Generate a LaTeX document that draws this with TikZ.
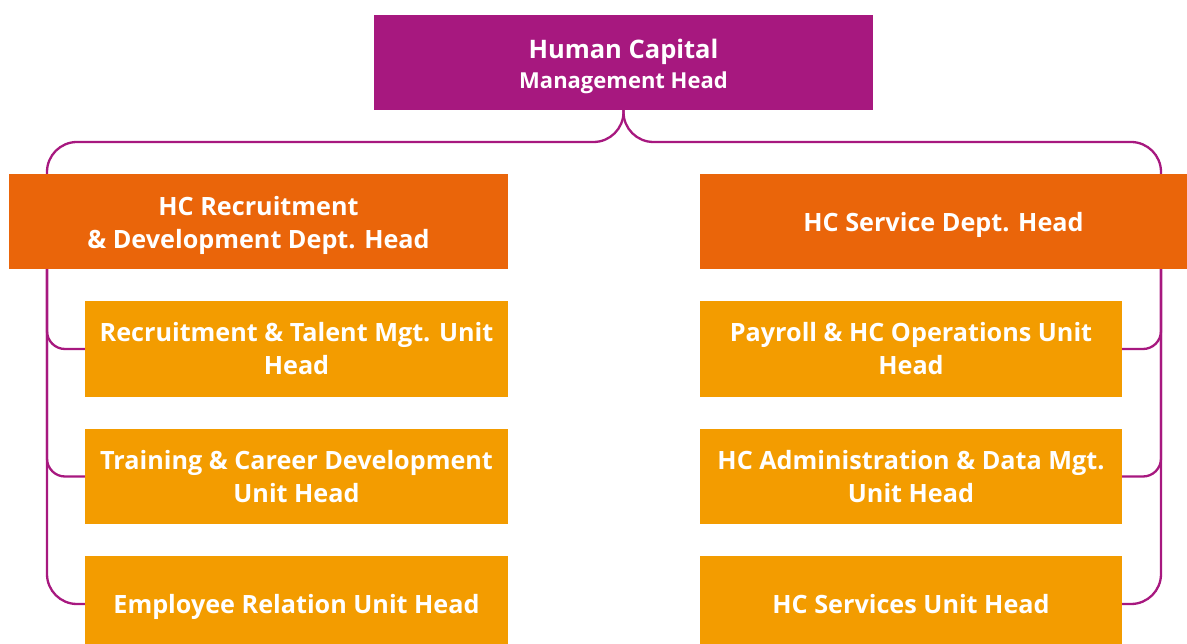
\documentclass[tikz,border=0pt]{standalone}
\usepackage{fontspec}
\setmainfont{Open Sans}[Ligatures=NoCommon]
\definecolor{hcpurple}{RGB}{167,24,127}
\definecolor{hcdept}{RGB}{234,101,10}
\definecolor{hcunit}{RGB}{243,156,0}
\newcommand{\capline}[2][18pt]{\raisebox{0pt}[#1][0pt]{#2}}
\begin{document}
\begin{tikzpicture}[x=1pt,y=-1pt,
  box/.style={rectangle, inner sep=0pt, align=center, text=white, font=\bfseries\fontsize{25.2}{33}\selectfont},
  topbox/.style={box, fill=hcpurple, minimum width=499pt, minimum height=95pt, font=\bfseries\fontsize{25.5}{30}\selectfont},
  deptbox/.style={box, fill=hcdept, minimum height=95pt},
  unitbox/.style={box, fill=hcunit, minimum width=423pt, minimum height=96pt},
  conn/.style={draw=hcpurple, line width=2.3pt}]
\useasboundingbox (0,0) rectangle (1187,644);
\clip (0,0) rectangle (1187,644);
\coordinate (lx) at (47,0);
\coordinate (rx) at (1161,0);
% connectors
\draw[conn, rounded corners=30pt] (623.5,110) -- (623.5,142) -- (47,142) -- (47,175);
\draw[conn, rounded corners=30pt] (623.5,110) -- (623.5,142) -- (1161,142) -- (1161,175);
% boxes
\node[topbox] (top) at (623.5,62.5) {\capline[22pt]{Human Capital}\\\capline[15pt]{\fontsize{22}{30}\selectfont Management Head}};
\node[deptbox, minimum width=499pt] (ldept) at (258.5,221.5) {\capline[21pt]{HC Recruitment}\\\capline{\& Development Dept. Head}};
\node[deptbox, minimum width=487pt] (rdept) at (943.5,221.5) {\capline[21pt]{HC Service Dept. Head}};
\node[unitbox] (lu1) at (296.5,349) {\capline[19pt]{Recruitment \& Talent Mgt. Unit}\\\capline{Head}};
\node[unitbox, minimum height=95pt] (lu2) at (296.5,476.5) {\capline[19pt]{Training \& Career Development}\\\capline{Unit Head}};
\node[unitbox] (lu3) at (296.5,604) {\capline{Employee Relation Unit Head}};
\node[unitbox, minimum width=422pt] (ru1) at (911,349) {\capline[19pt]{Payroll \& HC Operations Unit}\\\capline{Head}};
\node[unitbox, minimum width=422pt, minimum height=95pt] (ru2) at (911,476.5) {\capline[19pt]{HC Administration \& Data Mgt.}\\\capline{Unit Head}};
\node[unitbox, minimum width=422pt] (ru3) at (911,604) {\capline{HC Services Unit Head}};
% branches
\draw[conn, rounded corners=18pt] (ldept.south -| lx) |- (lu1.west);
\draw[conn, rounded corners=18pt] (ldept.south -| lx) |- (lu2.west);
\draw[conn, rounded corners=30pt] (ldept.south -| lx) |- (lu3.west);
\draw[conn, rounded corners=18pt] (rdept.south -| rx) |- (ru1.east);
\draw[conn, rounded corners=18pt] (rdept.south -| rx) |- (ru2.east);
\draw[conn, rounded corners=30pt] (rdept.south -| rx) |- (ru3.east);
\end{tikzpicture}
\end{document}
